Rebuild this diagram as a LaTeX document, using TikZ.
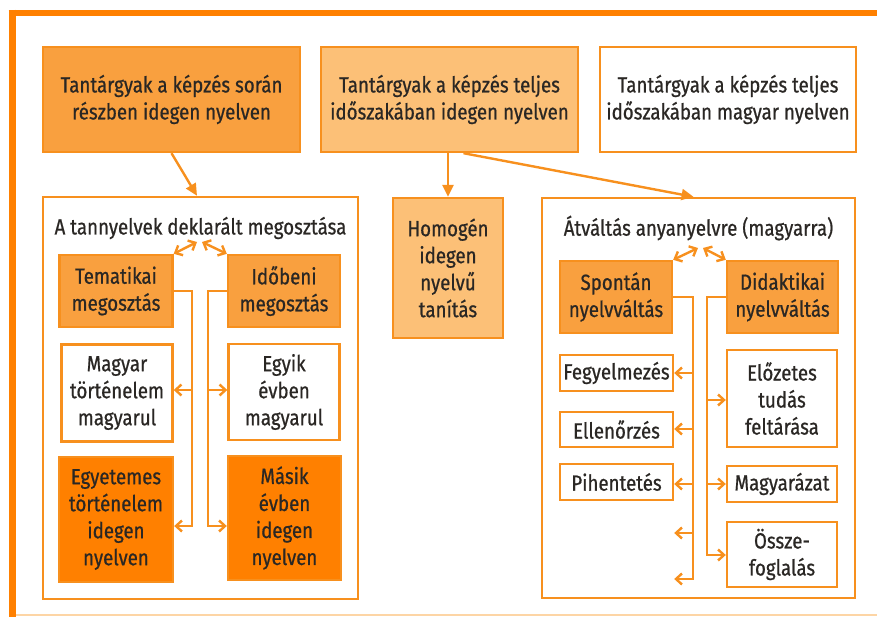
\documentclass[tikz,border=0pt]{standalone}
\usepackage{fontspec}
\setmainfont[FakeStretch=0.85,FakeBold=0.7]{Fira Sans}
\usetikzlibrary{arrows.meta}
\definecolor{lineor}{HTML}{F7901E}
\definecolor{frameor}{HTML}{FF8000}
\definecolor{darkfill}{HTML}{FF8000}
\definecolor{midfill}{HTML}{F9A03F}
\definecolor{lightfill}{HTML}{FCC077}
\definecolor{paleor}{HTML}{FDD5A5}
\definecolor{ink}{HTML}{2A2724}
\begin{document}
\begin{tikzpicture}[x=1pt,y=-1pt,line width=2.4pt,
  big arrow/.style={-{Triangle[length=12pt,width=11pt]}},
  small arrow/.style={-{Straight Barb[length=6pt,width=11pt]}},
  both arrow/.style={{Straight Barb[length=6pt,width=11pt]}-{Straight Barb[length=6pt,width=11pt]}},
  box/.style={draw=lineor,fill=white,align=center,inner sep=1pt,text=ink,
    font=\fontsize{22}{27}\selectfont},
  darkbox/.style={box,fill=darkfill},
  midbox/.style={box,fill=midfill},
  lightbox/.style={box,fill=lightfill},
  title/.style={text=ink,font=\fontsize{22}{26}\selectfont}]

  \useasboundingbox (0,0) rectangle (877,617);
  % frame
  \draw[frameor,line width=6.5pt] (8.5,13) -- (877,13);
  \draw[frameor,line width=7pt] (12,9.75) -- (12,617);
  \draw[paleor,line width=2pt] (16,615) -- (877,615);

  % top row
  \node[midbox,minimum width=257,minimum height=105] (kepzes) at (171.5,99.5)
    {Tantárgyak a képzés során\\részben idegen nyelven};
  \node[lightbox,minimum width=257,minimum height=105] (teljes) at (449.5,99.5)
    {Tantárgyak a képzés teljes\\időszakában idegen nyelven};
  \node[box,minimum width=256,minimum height=105] (magyar) at (728,99.5)
    {Tantárgyak a képzés teljes\\időszakában magyar nyelven};

  % containers
  \node[box,minimum width=315,minimum height=402] (dekl) at (200.5,398) {};
  \node[box,minimum width=313,minimum height=400] (atv) at (698.5,398) {};
  \node[lightbox,minimum width=110,minimum height=140] (homog) at (448,268)
    {Homogén\\idegen\\nyelvű\\tanítás};
  \node[title] (dtitle) at (200.5,228) {A tannyelvek deklarált megosztása};
  \node[title] (atitle) at (698.5,228) {Átváltás anyanyelvre (magyarra)};

  % left container
  \node[midbox,minimum width=113,minimum height=72] (temat) at (116,291)
    {Tematikai\\megosztás};
  \node[midbox,minimum width=112,minimum height=72] (idob) at (284,291)
    {Időbeni\\megosztás};
  \node[box,minimum width=111,minimum height=97] (magyt) at (117,393)
    {Magyar\\történelem\\magyarul};
  \node[box,minimum width=111,minimum height=96] (egyik) at (284,392)
    {Egyik\\évben\\magyarul};
  \node[darkbox,minimum width=114,minimum height=125] (egyet) at (116,519.5)
    {Egyetemes\\történelem\\idegen\\nyelven};
  \node[darkbox,minimum width=113,minimum height=124] (masik) at (284.5,518)
    {Másik\\évben\\idegen\\nyelven};

  % right container
  \node[midbox,minimum width=112,minimum height=72] (spont) at (616,297)
    {Spontán\\nyelvváltás};
  \node[midbox,minimum width=111,minimum height=72] (didak) at (782.5,297)
    {Didaktikai\\nyelvváltás};
  \node[box,minimum width=113,minimum height=36] (fegy) at (616.5,373) {Fegyelmezés};
  \node[box,minimum width=113,minimum height=35] (ellen) at (616.5,429.5) {Ellenőrzés};
  \node[box,minimum width=113,minimum height=36] (pihen) at (616.5,482) {Pihentetés};
  \node[box,minimum width=110,minimum height=97] (eloz) at (782,398.5)
    {Előzetes\\tudás\\feltárása};
  \node[box,minimum width=110,minimum height=36] (magyaraz) at (782,484) {Magyarázat};
  \node[box,minimum width=110,minimum height=65] (ossze) at (782,554.5)
    {Össze-\\foglalás};

  % junctions
  \coordinate (dsplit) at (200,242);
  \coordinate (asplit) at (700,248);
  \coordinate (tb1) at (192,390);
  \coordinate (tb2) at (192,526);
  \coordinate (ib1) at (208,390);
  \coordinate (ib2) at (208,526);
  \coordinate (sb1) at (693,373);
  \coordinate (sb2) at (693,429);
  \coordinate (sb3) at (693,484);
  \coordinate (sb4) at (693,533);
  \coordinate (sb5) at (693,579);
  \coordinate (db1) at (707,400);
  \coordinate (db2) at (707,484);
  \coordinate (db3) at (707,555);

  \begin{scope}[lineor]
  \draw[big arrow] (kepzes.south) -- ([xshift=-3.5]dekl.north);
  \draw[big arrow] (homog.north |- teljes.south) -- (homog.north);
  \draw[big arrow] ([xshift=14]teljes.south) -- ([xshift=-5]atv.north);

  \draw[both arrow] ([xshift=-3]dsplit) -- (temat.north east);
  \draw[both arrow] ([xshift=2]dsplit) -- (idob.north west);
  \draw[both arrow] ([xshift=-2]asplit) -- (spont.north east);
  \draw[both arrow] ([xshift=3]asplit) -- (didak.north west);

  \draw[small arrow] (temat.east) -| (tb2) -- (egyet.east |- tb2);
  \draw[small arrow] (tb1) -- (magyt.east |- tb1);
  \draw[small arrow] (idob.west) -| (ib2) -- (masik.west |- ib2);
  \draw[small arrow] (ib1) -- (egyik.west |- ib1);

  \draw[small arrow] (spont.east) -| (sb5) -- (fegy.east |- sb5);
  \draw[small arrow] (sb1) -- (fegy.east);
  \draw[small arrow] (sb2) -- (ellen.east |- sb2);
  \draw[small arrow] (sb3) -- (pihen.east |- sb3);
  \draw[small arrow] (sb4) -- (fegy.east |- sb4);
  \draw[small arrow] (didak.west) -| (db3) -- (ossze.west |- db3);
  \draw[small arrow] (db1) -- (eloz.west |- db1);
  \draw[small arrow] (db2) -- (magyaraz.west);
  \end{scope}
\end{tikzpicture}
\end{document}
